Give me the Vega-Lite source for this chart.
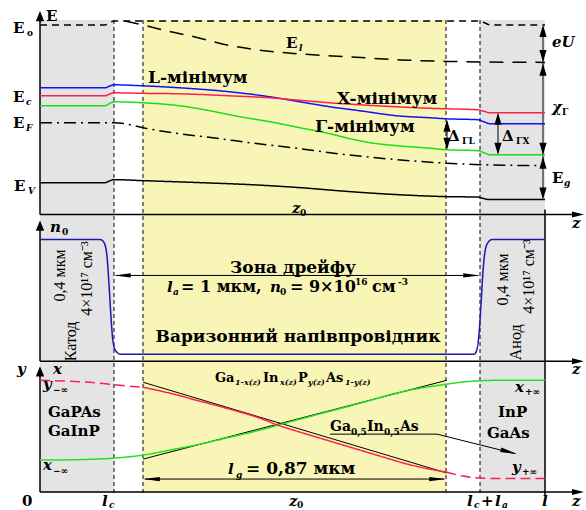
{
"$schema": "https://vega.github.io/schema/vega-lite/v6.json",
"width": 586, "height": 510, "padding": 0,
"autosize": {"type": "fit", "contains": "padding"},
"background": "white",
"config": {"view": {"stroke": null}},
"datasets": {
"zones": [
{"x": 40, "x2": 114, "y": 20, "y2": 494, "zone": "contact"},
{"x": 480, "x2": 545, "y": 20, "y2": 494, "zone": "contact"},
{"x": 143, "x2": 446, "y": 20, "y2": 494, "zone": "drift"}
],
"dividers": [
{"x": 114, "y": 20, "y2": 495}, {"x": 143, "y": 20, "y2": 495},
{"x": 446, "y": 20, "y2": 495}, {"x": 480, "y": 20, "y2": 495}
],
"axes": [
{"x": 40, "y": 16, "x2": 40, "y2": 215}, {"x": 40, "y": 215, "x2": 578, "y2": 215},
{"x": 40, "y": 226, "x2": 40, "y2": 362}, {"x": 40, "y": 362, "x2": 578, "y2": 362},
{"x": 40, "y": 372, "x2": 40, "y2": 493}, {"x": 40, "y": 493, "x2": 578, "y2": 493},
{"x": 545, "y": 210, "x2": 545, "y2": 362}, {"x": 545, "y": 362, "x2": 545, "y2": 497}
],
"thin": [
{"x": 543, "y": 27, "x2": 543, "y2": 198},
{"x": 447, "y": 122, "x2": 447, "y2": 148},
{"x": 498, "y": 115, "x2": 498, "y2": 153},
{"x": 116, "y": 276, "x2": 478, "y2": 276},
{"x": 145, "y": 480, "x2": 444, "y2": 480},
{"x": 330, "y": 435, "x2": 437, "y2": 435},
{"x": 437, "y": 435, "x2": 515, "y2": 454.5},
{"x": 143, "y": 383, "x2": 447, "y2": 474},
{"x": 143, "y": 460, "x2": 447, "y2": 381}
],
"heads": [
{"x": 543, "y": 25, "dir": "up"}, {"x": 543, "y": 62, "dir": "down"},
{"x": 543, "y": 64, "dir": "up"}, {"x": 543, "y": 155, "dir": "down"},
{"x": 543, "y": 157, "dir": "up"}, {"x": 543, "y": 200, "dir": "down"},
{"x": 447, "y": 120, "dir": "up"}, {"x": 447, "y": 150, "dir": "down"},
{"x": 498, "y": 113, "dir": "up"}, {"x": 498, "y": 155, "dir": "down"},
{"x": 114, "y": 276, "dir": "left"}, {"x": 480, "y": 276, "dir": "right"},
{"x": 143, "y": 480, "dir": "left"}, {"x": 446, "y": 480, "dir": "right"},
{"x": 40, "y": 11, "dir": "axisup"}, {"x": 40, "y": 221, "dir": "axisup"}, {"x": 40, "y": 367, "dir": "axisup"},
{"x": 584, "y": 215, "dir": "axisright"}, {"x": 584, "y": 362, "dir": "axisright"}, {"x": 584, "y": 493, "dir": "axisright"}
],
"pointer": [{"x": 517, "y": 455}],
"curves": [
{"c": "L", "x": 40, "y": 88}, {"c": "L", "x": 105, "y": 88}, {"c": "L", "x": 109, "y": 86.5}, {"c": "L", "x": 114, "y": 85}, {"c": "L", "x": 143, "y": 86}, {"c": "L", "x": 180, "y": 88}, {"c": "L", "x": 230, "y": 92}, {"c": "L", "x": 270, "y": 97}, {"c": "L", "x": 300, "y": 102}, {"c": "L", "x": 330, "y": 107}, {"c": "L", "x": 360, "y": 111}, {"c": "L", "x": 397, "y": 116}, {"c": "L", "x": 430, "y": 118}, {"c": "L", "x": 446, "y": 119}, {"c": "L", "x": 478, "y": 120}, {"c": "L", "x": 484, "y": 122}, {"c": "L", "x": 490, "y": 124}, {"c": "L", "x": 545, "y": 124},
{"c": "X", "x": 40, "y": 96}, {"c": "X", "x": 105, "y": 96}, {"c": "X", "x": 109, "y": 94.5}, {"c": "X", "x": 114, "y": 93}, {"c": "X", "x": 143, "y": 93.5}, {"c": "X", "x": 180, "y": 94}, {"c": "X", "x": 230, "y": 96}, {"c": "X", "x": 270, "y": 98}, {"c": "X", "x": 300, "y": 100.5}, {"c": "X", "x": 330, "y": 103}, {"c": "X", "x": 360, "y": 105}, {"c": "X", "x": 397, "y": 107}, {"c": "X", "x": 430, "y": 108.5}, {"c": "X", "x": 446, "y": 109}, {"c": "X", "x": 478, "y": 110}, {"c": "X", "x": 484, "y": 111.5}, {"c": "X", "x": 490, "y": 113}, {"c": "X", "x": 545, "y": 113},
{"c": "G", "x": 40, "y": 106}, {"c": "G", "x": 105, "y": 106}, {"c": "G", "x": 109, "y": 104}, {"c": "G", "x": 114, "y": 102}, {"c": "G", "x": 143, "y": 103}, {"c": "G", "x": 180, "y": 106}, {"c": "G", "x": 210, "y": 111}, {"c": "G", "x": 240, "y": 117}, {"c": "G", "x": 270, "y": 122}, {"c": "G", "x": 300, "y": 128}, {"c": "G", "x": 330, "y": 134}, {"c": "G", "x": 350, "y": 139}, {"c": "G", "x": 370, "y": 143}, {"c": "G", "x": 397, "y": 146}, {"c": "G", "x": 430, "y": 148.5}, {"c": "G", "x": 446, "y": 150}, {"c": "G", "x": 478, "y": 151}, {"c": "G", "x": 484, "y": 153}, {"c": "G", "x": 490, "y": 155}, {"c": "G", "x": 545, "y": 155},
{"c": "EV", "x": 40, "y": 183}, {"c": "EV", "x": 105, "y": 183}, {"c": "EV", "x": 109, "y": 181.5}, {"c": "EV", "x": 114, "y": 180}, {"c": "EV", "x": 143, "y": 181}, {"c": "EV", "x": 200, "y": 183}, {"c": "EV", "x": 250, "y": 185}, {"c": "EV", "x": 300, "y": 188}, {"c": "EV", "x": 350, "y": 192}, {"c": "EV", "x": 397, "y": 195}, {"c": "EV", "x": 446, "y": 197}, {"c": "EV", "x": 478, "y": 197.5}, {"c": "EV", "x": 484, "y": 199}, {"c": "EV", "x": 490, "y": 200}, {"c": "EV", "x": 545, "y": 200},
{"c": "EF", "x": 40, "y": 123}, {"c": "EF", "x": 114, "y": 123}, {"c": "EF", "x": 125, "y": 124}, {"c": "EF", "x": 143, "y": 128}, {"c": "EF", "x": 180, "y": 134}, {"c": "EF", "x": 220, "y": 139}, {"c": "EF", "x": 250, "y": 143}, {"c": "EF", "x": 300, "y": 149}, {"c": "EF", "x": 330, "y": 153}, {"c": "EF", "x": 397, "y": 160}, {"c": "EF", "x": 446, "y": 163.5}, {"c": "EF", "x": 480, "y": 165}, {"c": "EF", "x": 545, "y": 166},
{"c": "E0", "x": 40, "y": 25}, {"c": "E0", "x": 105, "y": 25}, {"c": "E0", "x": 109, "y": 23}, {"c": "E0", "x": 114, "y": 21}, {"c": "E0", "x": 300, "y": 21}, {"c": "E0", "x": 480, "y": 21}, {"c": "E0", "x": 485, "y": 23}, {"c": "E0", "x": 490, "y": 25}, {"c": "E0", "x": 545, "y": 25},
{"c": "El", "x": 125, "y": 21}, {"c": "El", "x": 143, "y": 25}, {"c": "El", "x": 167, "y": 31}, {"c": "El", "x": 195, "y": 37}, {"c": "El", "x": 227, "y": 45}, {"c": "El", "x": 257, "y": 50}, {"c": "El", "x": 300, "y": 54}, {"c": "El", "x": 350, "y": 57}, {"c": "El", "x": 400, "y": 60}, {"c": "El", "x": 446, "y": 61.5}, {"c": "El", "x": 545, "y": 62.5},
{"c": "n0", "x": 40, "y": 240}, {"c": "n0", "x": 100, "y": 240}, {"c": "n0", "x": 104, "y": 243}, {"c": "n0", "x": 107, "y": 257}, {"c": "n0", "x": 109, "y": 285}, {"c": "n0", "x": 111, "y": 318}, {"c": "n0", "x": 113, "y": 342}, {"c": "n0", "x": 116, "y": 352}, {"c": "n0", "x": 121, "y": 355}, {"c": "n0", "x": 474, "y": 355}, {"c": "n0", "x": 477, "y": 350}, {"c": "n0", "x": 479, "y": 335}, {"c": "n0", "x": 481, "y": 305}, {"c": "n0", "x": 483, "y": 272}, {"c": "n0", "x": 485, "y": 252}, {"c": "n0", "x": 488, "y": 243}, {"c": "n0", "x": 492, "y": 240}, {"c": "n0", "x": 545, "y": 240},
{"c": "xc", "x": 40, "y": 461}, {"c": "xc", "x": 80, "y": 460.5}, {"c": "xc", "x": 114, "y": 459}, {"c": "xc", "x": 143, "y": 456}, {"c": "xc", "x": 170, "y": 451}, {"c": "xc", "x": 200, "y": 445}, {"c": "xc", "x": 230, "y": 438}, {"c": "xc", "x": 260, "y": 431}, {"c": "xc", "x": 278, "y": 426}, {"c": "xc", "x": 300, "y": 420}, {"c": "xc", "x": 330, "y": 412}, {"c": "xc", "x": 360, "y": 404}, {"c": "xc", "x": 400, "y": 393}, {"c": "xc", "x": 420, "y": 389}, {"c": "xc", "x": 446, "y": 385}, {"c": "xc", "x": 465, "y": 382.5}, {"c": "xc", "x": 480, "y": 381.5}, {"c": "xc", "x": 500, "y": 381}, {"c": "xc", "x": 545, "y": 381},
{"c": "yL", "x": 40, "y": 381}, {"c": "yL", "x": 70, "y": 382}, {"c": "yL", "x": 100, "y": 384}, {"c": "yL", "x": 114, "y": 385.5}, {"c": "yL", "x": 143, "y": 388},
{"c": "yM", "x": 143, "y": 388}, {"c": "yM", "x": 170, "y": 394}, {"c": "yM", "x": 200, "y": 402}, {"c": "yM", "x": 230, "y": 410}, {"c": "yM", "x": 260, "y": 419}, {"c": "yM", "x": 278, "y": 426}, {"c": "yM", "x": 300, "y": 433}, {"c": "yM", "x": 330, "y": 442}, {"c": "yM", "x": 360, "y": 451}, {"c": "yM", "x": 390, "y": 460}, {"c": "yM", "x": 400, "y": 463}, {"c": "yM", "x": 420, "y": 468}, {"c": "yM", "x": 446, "y": 473},
{"c": "yR", "x": 446, "y": 473}, {"c": "yR", "x": 463, "y": 477}, {"c": "yR", "x": 480, "y": 479}, {"c": "yR", "x": 500, "y": 479.5}, {"c": "yR", "x": 545, "y": 479.5}
],
"labels": [
{"role": "b15", "text": "E", "x": 46, "y": 21},
{"role": "b15", "text": "E", "x": 13, "y": 33},
{"role": "b15", "text": "E", "x": 13, "y": 102},
{"role": "b15", "text": "E", "x": 13, "y": 128},
{"role": "b15", "text": "E", "x": 14, "y": 191},
{"role": "b15", "text": "E", "x": 286, "y": 48},
{"role": "b15", "text": "E", "x": 552, "y": 183},
{"role": "b15", "text": "Δ", "x": 448, "y": 141},
{"role": "b15", "text": "Δ", "x": 502, "y": 141},
{"role": "b15", "text": "GaPAs", "x": 48, "y": 418},
{"role": "b15", "text": "GaInP", "x": 48, "y": 437},
{"role": "b15", "text": "InP", "x": 498, "y": 418},
{"role": "b15", "text": "GaAs", "x": 487, "y": 439},
{"role": "b15", "text": "0", "x": 22, "y": 507},
{"role": "b15", "text": "+", "x": 481, "y": 507},
{"role": "min", "text": "L-мінімум", "x": 148, "y": 83},
{"role": "min", "text": "X-мінімум", "x": 337, "y": 104},
{"role": "min", "text": "Γ-мінімум", "x": 315, "y": 132},
{"role": "min", "text": "= 0,87 мкм", "x": 246, "y": 475},
{"role": "b16", "text": "= 1 мкм,", "x": 181, "y": 293},
{"role": "b16", "text": "= 9×10", "x": 290, "y": 293},
{"role": "b16", "text": "см", "x": 372, "y": 293},
{"role": "center", "text": "Зона дрейфу", "x": 293, "y": 274},
{"role": "center", "text": "Варизонний напівпровідник", "x": 298, "y": 343},
{"role": "it", "text": "l", "x": 167, "y": 293},
{"role": "it", "text": "n", "x": 270, "y": 293},
{"role": "it", "text": "l", "x": 228, "y": 475},
{"role": "it", "text": "z", "x": 292, "y": 213},
{"role": "it", "text": "z", "x": 572, "y": 228},
{"role": "it", "text": "z", "x": 572, "y": 375},
{"role": "it", "text": "z", "x": 572, "y": 507},
{"role": "it", "text": "eU", "x": 552, "y": 47},
{"role": "it", "text": "χ", "x": 552, "y": 112},
{"role": "it", "text": "n", "x": 50, "y": 232},
{"role": "it", "text": "y", "x": 17, "y": 375},
{"role": "it", "text": "x", "x": 53, "y": 375},
{"role": "it", "text": "y", "x": 43, "y": 390},
{"role": "it", "text": "x", "x": 43, "y": 471},
{"role": "it", "text": "x", "x": 515, "y": 393},
{"role": "it", "text": "y", "x": 512, "y": 473},
{"role": "it", "text": "l", "x": 102, "y": 507},
{"role": "it", "text": "z", "x": 289, "y": 507},
{"role": "it", "text": "l", "x": 467, "y": 507},
{"role": "it", "text": "l", "x": 495, "y": 507},
{"role": "it", "text": "l", "x": 542, "y": 507},
{"role": "sub", "text": "c", "x": 26, "y": 105},
{"role": "sub", "text": "F", "x": 26, "y": 131},
{"role": "sub", "text": "V", "x": 28, "y": 194},
{"role": "sub", "text": "l", "x": 299, "y": 51},
{"role": "sub", "text": "g", "x": 564, "y": 186},
{"role": "sub", "text": "a", "x": 173, "y": 296},
{"role": "sub", "text": "g", "x": 236, "y": 479},
{"role": "sub", "text": "c", "x": 109, "y": 509},
{"role": "sub", "text": "c", "x": 474, "y": 509},
{"role": "sub", "text": "a", "x": 502, "y": 509},
{"role": "sub", "text": "−∞", "x": 53, "y": 394},
{"role": "sub", "text": "−∞", "x": 53, "y": 475},
{"role": "sub", "text": "+∞", "x": 525, "y": 396},
{"role": "sub", "text": "+∞", "x": 522, "y": 476},
{"role": "fsub", "text": "1-x(z)", "x": 235, "y": 386},
{"role": "fsub", "text": "x(z)", "x": 280, "y": 386},
{"role": "fsub", "text": "y(z)", "x": 308, "y": 386},
{"role": "fsub", "text": "1-y(z)", "x": 345, "y": 386},
{"role": "subr", "text": "o", "x": 27, "y": 36},
{"role": "subr", "text": "0", "x": 300, "y": 216},
{"role": "subr", "text": "0", "x": 62, "y": 235},
{"role": "subr", "text": "0", "x": 280, "y": 296},
{"role": "subr", "text": "Γ", "x": 562, "y": 115},
{"role": "subr", "text": "ΓL", "x": 462, "y": 144},
{"role": "subr", "text": "ΓX", "x": 516, "y": 144},
{"role": "subr", "text": "0", "x": 297, "y": 509},
{"role": "subr", "text": "16", "x": 355, "y": 286},
{"role": "subr", "text": "-3", "x": 398, "y": 286},
{"role": "subr", "text": "0,5", "x": 351, "y": 436},
{"role": "subr", "text": "0,5", "x": 384, "y": 436},
{"role": "form", "text": "Ga", "x": 215, "y": 383},
{"role": "form", "text": "In", "x": 263, "y": 383},
{"role": "form", "text": "P", "x": 298, "y": 383},
{"role": "form", "text": "As", "x": 326, "y": 383},
{"role": "form14", "text": "Ga", "x": 330, "y": 432},
{"role": "form14", "text": "In", "x": 367, "y": 432},
{"role": "form14", "text": "As", "x": 400, "y": 432},
{"role": "rot", "text": "0,4 мкм", "x": 60, "y": 276},
{"role": "rot", "text": "4×10¹⁷ см⁻³", "x": 87, "y": 279},
{"role": "rot", "text": "Катод", "x": 71, "y": 342},
{"role": "rot", "text": "0,4 мкм", "x": 503, "y": 280},
{"role": "rot", "text": "4×10¹⁷ см⁻³", "x": 529, "y": 277},
{"role": "rot", "text": "Анод", "x": 516, "y": 343}
]
},
"encoding": {
"x": {"field": "x", "type": "quantitative", "scale": {"domain": [0, 586], "nice": false, "zero": false}, "axis": null},
"y": {"field": "y", "type": "quantitative", "scale": {"domain": [0, 510], "nice": false, "zero": false, "reverse": true}, "axis": null}
},
"layer": [
{"data": {"name": "zones"}, "transform": [{"filter": "datum.zone == 'contact'"}], "mark": {"type": "rect", "color": "#e4e4e4"},
 "encoding": {"x2": {"field": "x2"}, "y2": {"field": "y2"}}},
{"data": {"name": "zones"}, "transform": [{"filter": "datum.zone == 'drift'"}], "mark": {"type": "rect", "color": "#f8f5b6"},
 "encoding": {"x2": {"field": "x2"}, "y2": {"field": "y2"}}},
{"data": {"name": "dividers"}, "mark": {"type": "rule", "color": "black", "strokeWidth": 1, "strokeDash": [4, 3]},
 "encoding": {"y2": {"field": "y2"}}},
{"data": {"name": "axes"}, "mark": {"type": "rule", "color": "black", "strokeWidth": 1.5},
 "encoding": {"x2": {"field": "x2"}, "y2": {"field": "y2"}}},
{"data": {"name": "thin"}, "mark": {"type": "rule", "color": "black", "strokeWidth": 1},
 "encoding": {"x2": {"field": "x2"}, "y2": {"field": "y2"}}},
{"data": {"name": "curves"}, "mark": {"type": "line", "interpolate": "monotone"},
 "encoding": {
  "detail": {"field": "c"},
  "color": {"field": "c", "type": "nominal", "legend": null, "scale": {"domain": ["L", "X", "G", "EV", "EF", "E0", "El", "n0", "xc", "yL", "yM", "yR"], "range": ["#1010ff", "#ff1f4b", "#16e016", "#000000", "#000000", "#000000", "#000000", "#1a1aa8", "#22e022", "#ff1f4b", "#ff1f4b", "#ff1f4b"]}},
  "strokeDash": {"field": "c", "type": "nominal", "legend": null, "scale": {"domain": ["L", "X", "G", "EV", "EF", "E0", "El", "n0", "xc", "yL", "yM", "yR"], "range": [[1, 0], [1, 0], [1, 0], [1, 0], [12, 5, 2, 5], [7, 5], [14, 9], [1, 0], [1, 0], [10, 5], [1, 0], [10, 5]]}},
  "strokeWidth": {"field": "c", "type": "nominal", "legend": null, "scale": {"domain": ["L", "X", "G", "EV", "EF", "E0", "El", "n0", "xc", "yL", "yM", "yR"], "range": [1.5, 1.5, 1.5, 1.5, 1.1, 1.1, 1.1, 1.8, 1.8, 1.8, 1.8, 1.8]}}
 }},
{"data": {"name": "heads"}, "mark": {"type": "point", "filled": true, "color": "black", "opacity": 1, "size": 144},
 "encoding": {"shape": {"field": "dir", "type": "nominal", "legend": null, "scale": {"domain": ["up", "down", "left", "right", "axisup", "axisright"], "range": ["M0,0L-0.6,2L0.6,2Z", "M0,0L-0.6,-2L0.6,-2Z", "M0,0L2.8,-0.35L2.8,0.35Z", "M0,0L-2.8,-0.35L-2.8,0.35Z", "M0,0L-0.7,1.7L0.7,1.7Z", "M0,0L-2,-0.5L-2,0.5Z"]}}}},
{"data": {"name": "pointer"}, "mark": {"type": "point", "filled": true, "color": "black", "opacity": 1, "size": 144, "angle": 15, "shape": "M0,0L-2.8,-0.4L-2.8,0.4Z"}},
{"data": {"name": "labels"}, "transform": [{"filter": "datum.role == 'b15'"}],
 "mark": {"type": "text", "font": "DejaVu Serif", "fontWeight": "bold", "fontSize": 15, "align": "left", "baseline": "alphabetic", "color": "black"},
 "encoding": {"text": {"field": "text"}}},
{"data": {"name": "labels"}, "transform": [{"filter": "datum.role == 'min'"}],
 "mark": {"type": "text", "font": "DejaVu Serif", "fontWeight": "bold", "fontSize": 17, "align": "left", "baseline": "alphabetic", "color": "black"},
 "encoding": {"text": {"field": "text"}}},
{"data": {"name": "labels"}, "transform": [{"filter": "datum.role == 'b16'"}],
 "mark": {"type": "text", "font": "DejaVu Serif", "fontWeight": "bold", "fontSize": 16, "align": "left", "baseline": "alphabetic", "color": "black"},
 "encoding": {"text": {"field": "text"}}},
{"data": {"name": "labels"}, "transform": [{"filter": "datum.role == 'center'"}],
 "mark": {"type": "text", "font": "DejaVu Serif", "fontWeight": "bold", "fontSize": 17, "align": "center", "baseline": "alphabetic", "color": "black"},
 "encoding": {"text": {"field": "text"}}},
{"data": {"name": "labels"}, "transform": [{"filter": "datum.role == 'it'"}],
 "mark": {"type": "text", "font": "DejaVu Serif", "fontWeight": "bold", "fontStyle": "italic", "fontSize": 15, "align": "left", "baseline": "alphabetic", "color": "black"},
 "encoding": {"text": {"field": "text"}}},
{"data": {"name": "labels"}, "transform": [{"filter": "datum.role == 'sub'"}],
 "mark": {"type": "text", "font": "DejaVu Serif", "fontWeight": "bold", "fontStyle": "italic", "fontSize": 9, "align": "left", "baseline": "alphabetic", "color": "black"},
 "encoding": {"text": {"field": "text"}}},
{"data": {"name": "labels"}, "transform": [{"filter": "datum.role == 'fsub'"}],
 "mark": {"type": "text", "font": "DejaVu Serif", "fontWeight": "bold", "fontStyle": "italic", "fontSize": 8, "align": "left", "baseline": "alphabetic", "color": "black"},
 "encoding": {"text": {"field": "text"}}},
{"data": {"name": "labels"}, "transform": [{"filter": "datum.role == 'subr'"}],
 "mark": {"type": "text", "font": "DejaVu Serif", "fontWeight": "bold", "fontSize": 9, "align": "left", "baseline": "alphabetic", "color": "black"},
 "encoding": {"text": {"field": "text"}}},
{"data": {"name": "labels"}, "transform": [{"filter": "datum.role == 'form'"}],
 "mark": {"type": "text", "font": "DejaVu Serif", "fontWeight": "bold", "fontSize": 13, "align": "left", "baseline": "alphabetic", "color": "black"},
 "encoding": {"text": {"field": "text"}}},
{"data": {"name": "labels"}, "transform": [{"filter": "datum.role == 'form14'"}],
 "mark": {"type": "text", "font": "DejaVu Serif", "fontWeight": "bold", "fontSize": 14, "align": "left", "baseline": "alphabetic", "color": "black"},
 "encoding": {"text": {"field": "text"}}},
{"data": {"name": "labels"}, "transform": [{"filter": "datum.role == 'rot'"}],
 "mark": {"type": "text", "font": "Liberation Serif", "fontSize": 16, "angle": 270, "align": "center", "baseline": "middle", "color": "black"},
 "encoding": {"text": {"field": "text"}}}
]
}
